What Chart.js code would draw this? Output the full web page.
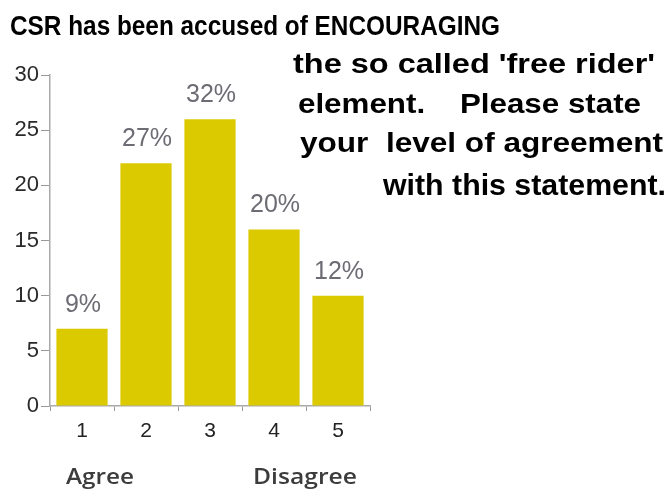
<!DOCTYPE html>
<html><head><meta charset="utf-8">
<script src="https://cdn.jsdelivr.net/npm/chart.js@4/dist/chart.umd.min.js"></script>
<style>html,body{margin:0;padding:0;background:#fff;}#wrap{width:672px;height:492px;position:relative;}</style>
</head><body><div id="wrap"><canvas id="c" width="672" height="492"></canvas></div>
<script>
const categories = ["1", "2", "3", "4", "5"];
const counts = [7, 22, 26, 16, 10];
const percentLabels = ["9%", "27%", "32%", "20%", "12%"];
const yTicks = [0, 5, 10, 15, 20, 25, 30];
const titleLines = [
  "CSR has been accused of ENCOURAGING",
  "the so called 'free rider'",
  "element.    Please state",
  "your  level of agreement",
  "with this statement."
];
const endLabels = ["Agree", "Disagree"];

// text layout: [left, right, baseline, fontSize]
const titleLayout = [[10,500,35,28],[293,655,73,27],[298,641,113,28],[300,663,152,27],[383,666,195,30]];
const endLayout = [[66,134,484],[253,357,484]];

function fitText(ctx, t, l, r, b) {
  const w = ctx.measureText(t).width;
  const s = (r - l) / w;
  ctx.save();
  ctx.translate(l, b);
  ctx.scale(s, 1);
  ctx.fillText(t, 0, 0);
  ctx.restore();
}

const textPlugin = {
  id: 'texts',
  afterDraw(chart) {
    const ctx = chart.ctx;
    ctx.save();
    ctx.fillStyle = '#000';
    ctx.textBaseline = 'alphabetic';
    ctx.textAlign = 'left';
    titleLines.forEach((t, i) => {
      const [l, r, b, fs] = titleLayout[i];
      ctx.font = 'bold ' + fs + 'px "Liberation Sans", Arial, sans-serif';
      fitText(ctx, t, l, r, b);
    });
    // percent labels
    const meta = chart.getDatasetMeta(0);
    ctx.fillStyle = '#6c6c74';
    ctx.font = '25px "Liberation Sans", Arial, sans-serif';
    ctx.textAlign = 'center';
    meta.data.forEach((bar, i) => {
      ctx.fillText(percentLabels[i], bar.x + 1, bar.y - 17);
    });
    // agree / disagree
    ctx.fillStyle = '#3c3c3c';
    ctx.font = '600 22px "Open Sans", Lato, sans-serif';
    ctx.textAlign = 'left';
    endLabels.forEach((t, i) => {
      const [l, r, b] = endLayout[i];
      fitText(ctx, t, l, r, b);
    });
    ctx.restore();
  }
};

new Chart(document.getElementById('c'), {
  type: 'bar',
  data: {
    labels: categories,
    datasets: [{
      data: counts,
      backgroundColor: '#dbca00',
      borderWidth: 0,
      barPercentage: 0.8,
      categoryPercentage: 1.0
    }]
  },
  options: {
    responsive: false,
    animation: false,
    devicePixelRatio: 1,
    layout: { padding: { left: 0, right: 302, top: 75, bottom: 0 } },
    plugins: { legend: { display: false }, tooltip: { enabled: false } },
    scales: {
      x: {
        grid: { drawOnChartArea: false, tickLength: 5, color: '#999', tickColor: '#999' },
        border: { color: '#aaa', width: 1.5 },
        ticks: { color: '#222', font: { size: 21, family: '"Liberation Sans", Arial, sans-serif' }, padding: 8 },
        afterFit(s) { s.height = 86; }
      },
      y: {
        min: 0, max: 30,
        afterBuildTicks(s) { s.ticks = yTicks.map(v => ({ value: v })); },
        grid: { drawOnChartArea: false, tickLength: 9, color: '#999', tickColor: '#999' },
        border: { color: '#aaa', width: 1.5 },
        ticks: { color: '#2a2a2a', font: { size: 22, family: '"Liberation Sans", Arial, sans-serif' }, padding: 2 },
        afterFit(s) { s.width = 50; }
      }
    }
  },
  plugins: [textPlugin]
});
</script></body></html>
